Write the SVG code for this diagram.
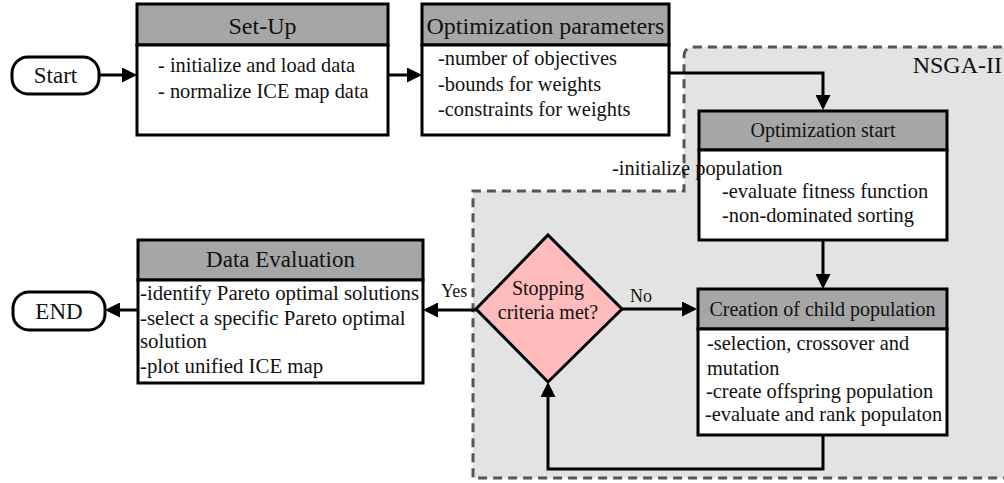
<svg xmlns="http://www.w3.org/2000/svg" width="1004" height="483" viewBox="0 0 1004 483">
<style>
text{font-family:"Liberation Serif","Times New Roman",serif;fill:#111;}
.hd{fill:#a6a6a6;stroke:#000;stroke-width:3;}
.bd{fill:#fff;stroke:#000;stroke-width:3;}
.term{fill:#fff;stroke:#000;stroke-width:3;}
.t24{font-size:24px;text-anchor:middle;}
.t20c{font-size:20px;text-anchor:middle;}
.b20{font-size:20.4px;}
.lbl{font-size:18px;}
.conn path{fill:none;stroke:#000;stroke-width:3;}
</style>
<defs>
<marker id="ah" viewBox="0 0 10 10" refX="8" refY="5" markerWidth="5" markerHeight="5" orient="auto" markerUnits="strokeWidth">
<path d="M0,0 L10,5 L0,10 Z" fill="#000"/>
</marker>
</defs>
<g id="nsga-region">
<path d="M684,57 Q684,47 694,47 L1012,47 L1012,478 L473,478 L473,191 L684,191 Z" fill="#e3e3e3" stroke="#555" stroke-width="3" stroke-dasharray="9,6"/>
<text x="1002" y="73" style="font-size:24px;text-anchor:end;">NSGA-II</text>
</g>
<g class="conn" id="connectors">
<path d="M99,75 L134,75" marker-end="url(#ah)"/>
<path d="M388,75 L419,75" marker-end="url(#ah)"/>
<path d="M669,73 L823,73 L823,107" marker-end="url(#ah)"/>
<path d="M823,240 L823,286" marker-end="url(#ah)"/>
<path d="M622,309 L694,309" marker-end="url(#ah)"/>
<path d="M476,310 L426,310" marker-end="url(#ah)"/>
<path d="M138,310 L108,310" marker-end="url(#ah)"/>
<path d="M823,435 L823,469 L548,469 L548,385" marker-end="url(#ah)"/>
<text class="lbl" x="441" y="297">Yes</text>
<text class="lbl" x="630" y="302">No</text>
</g>
<g id="start">
<rect class="term" x="12" y="57" width="87" height="37" rx="16"/>
<text class="t24" x="55.5" y="83" style="font-size:23px">Start</text>
</g>
<g id="setup">
<rect class="hd" x="137" y="4" width="251" height="41"/>
<rect class="bd" x="137" y="45" width="251" height="90"/>
<text class="t24" x="262.5" y="34">Set-Up</text>
<text class="b20" x="158" y="72">- initialize and load data</text>
<text class="b20" x="158" y="98">- normalize ICE map data</text>
</g>
<g id="opt-params">
<rect class="hd" x="422" y="4" width="247" height="41"/>
<rect class="bd" x="422" y="45" width="247" height="90"/>
<text class="t24" x="545.5" y="34">Optimization parameters</text>
<text class="b20" x="438" y="65">-number of objectives</text>
<text class="b20" x="438" y="91">-bounds for weights</text>
<text class="b20" x="438" y="116">-constraints for weights</text>
</g>
<g id="opt-start">
<rect class="hd" x="699" y="111" width="248" height="39"/>
<rect class="bd" x="699" y="150" width="248" height="90"/>
<text class="t20c" x="823" y="137">Optimization start</text>
<text class="b20" x="612" y="175">-initialize population</text>
<text class="b20" x="722" y="198">-evaluate fitness function</text>
<text class="b20" x="722" y="222">-non-dominated sorting</text>
</g>
<g id="creation">
<rect class="hd" x="698" y="289" width="249" height="40"/>
<rect class="bd" x="698" y="329" width="249" height="106"/>
<text class="t20c" x="822.5" y="316">Creation of child population</text>
<text class="b20" x="707" y="350">-selection, crossover and</text>
<text class="b20" x="707" y="375">mutation</text>
<text class="b20" x="706" y="398">-create offspring population</text>
<text class="b20" x="705" y="421">-evaluate and rank populaton</text>
</g>
<g id="decision">
<polygon points="548,235 622,309 548,382 476,309" fill="#ffbcbc" stroke="#000" stroke-width="3" stroke-linejoin="miter"/>
<text class="t20c" x="548" y="295">Stopping</text>
<text class="t20c" x="548" y="319">criteria met?</text>
</g>
<g id="data-eval">
<rect class="hd" x="138" y="240" width="285" height="40"/>
<rect class="bd" x="138" y="280" width="285" height="103"/>
<text class="t24" x="280.5" y="267" style="font-size:23px">Data Evaluation</text>
<text class="b20" x="140" y="300" style="font-size:20.8px">-identify Pareto optimal solutions</text>
<text class="b20" x="140" y="325" style="font-size:20.8px">-select a specific Pareto optimal</text>
<text class="b20" x="140" y="348" style="font-size:20.8px">solution</text>
<text class="b20" x="140" y="373" style="font-size:20.8px">-plot unified ICE map</text>
</g>
<g id="end">
<rect class="term" x="13" y="292" width="92" height="38" rx="16"/>
<text class="t24" x="59" y="319" style="font-size:23px">END</text>
</g>
</svg>
